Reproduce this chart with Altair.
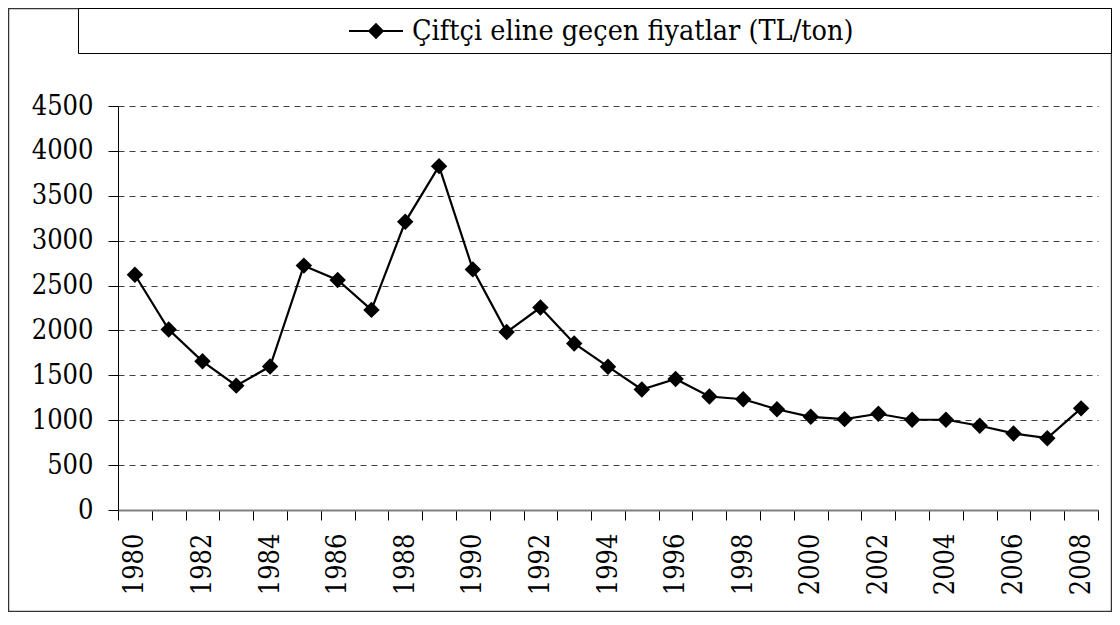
import altair as alt
import pandas as pd

years = list(range(1980, 2009))
prices = [2620, 2010, 1656, 1385, 1598, 2722, 2562, 2229, 3210, 3830,
          2680, 1982, 2255, 1855, 1596, 1342, 1459, 1264, 1234, 1122,
          1038, 1012, 1072, 1005, 1005, 938, 853, 800, 1132]
series_name = "Çiftçi eline geçen fiyatlar (TL/ton)"
y_ticks = [0, 500, 1000, 1500, 2000, 2500, 3000, 3500, 4000, 4500]

df = pd.DataFrame({"year": years, "price": prices, "series": [series_name] * len(years)})

FONT = "'DejaVu Serif Condensed', 'DejaVu Serif'"

legend_symbol = "M-1,0L-0.25,0L0,-0.25L0.25,0L0,0.25L-0.25,0ZM0.25,0L1,0"

x_enc = alt.X(
    "year:O",
    scale=alt.Scale(type="band", paddingInner=0, paddingOuter=0),
    axis=alt.Axis(
        title=None,
        labelExpr="datum.value % 2 == 0 ? datum.label : ''",
        labelAngle=270,
        labelFont=FONT,
        labelFontSize=27,
        labelColor="black",
        labelPadding=13,
        labelOverlap=False,
        tickBand="extent",
        tickSize=10,
        tickColor="black",
        tickWidth=1,
        domainColor="#808080",
        domainWidth=2,
        grid=False,
    ),
)
y_enc = alt.Y(
    "price:Q",
    scale=alt.Scale(domain=[0, 4500], nice=False),
    axis=alt.Axis(
        title=None,
        values=y_ticks,
        format="d",
        labelFont=FONT,
        labelFontSize=27,
        labelColor="black",
        labelPadding=15,
        tickSize=10,
        tickColor="black",
        domainColor="black",
        domainWidth=1,
        grid=True,
        gridDash=[6, 5],
        gridColor="#404040",
        gridWidth=1,
    ),
)

base = alt.Chart(df)

line = base.mark_line(strokeWidth=2.2).encode(
    x=x_enc,
    y=y_enc,
    color=alt.Color(
        "series:N",
        scale=alt.Scale(range=["black"]),
        legend=alt.Legend(
            title=None,
            orient="none",
            legendX=230,
            legendY=-103,
            symbolType=legend_symbol,
            symbolSize=2916,
            symbolStrokeColor="black",
            symbolFillColor="black",
            symbolStrokeWidth=2,
            labelFont=FONT,
            labelFontSize=28.5,
            labelColor="black",
            labelOffset=8,
            labelLimit=0,
            padding=0,
        ),
    ),
)

points = base.mark_point(shape="diamond", filled=True, size=270, color="black", opacity=1).encode(
    x=alt.X("year:O"),
    y=alt.Y("price:Q"),
)

frame_data = alt.Data(values=[{"k": 1}])
outer_frame = alt.Chart(frame_data).mark_rect(fill=None, stroke="#333333", strokeWidth=1.5).encode(
    x=alt.value(-109.5), x2=alt.value(993.5), y=alt.value(-97.5), y2=alt.value(505.5)
)
legend_box = alt.Chart(frame_data).mark_rect(fill="white", stroke="black", strokeWidth=1).encode(
    x=alt.value(-39.5), x2=alt.value(993.5), y=alt.value(-97.5), y2=alt.value(-52.5)
)

chart = alt.layer(outer_frame, legend_box, line, points).properties(
    width=980,
    height=404,
    autosize=alt.AutoSizeParams(type="none"),
    padding={"left": 110, "top": 98, "right": 14, "bottom": 102},
    background="white",
).configure_view(stroke=None)

chart.save("out.html", embed_options={"renderer": "svg", "actions": False})
